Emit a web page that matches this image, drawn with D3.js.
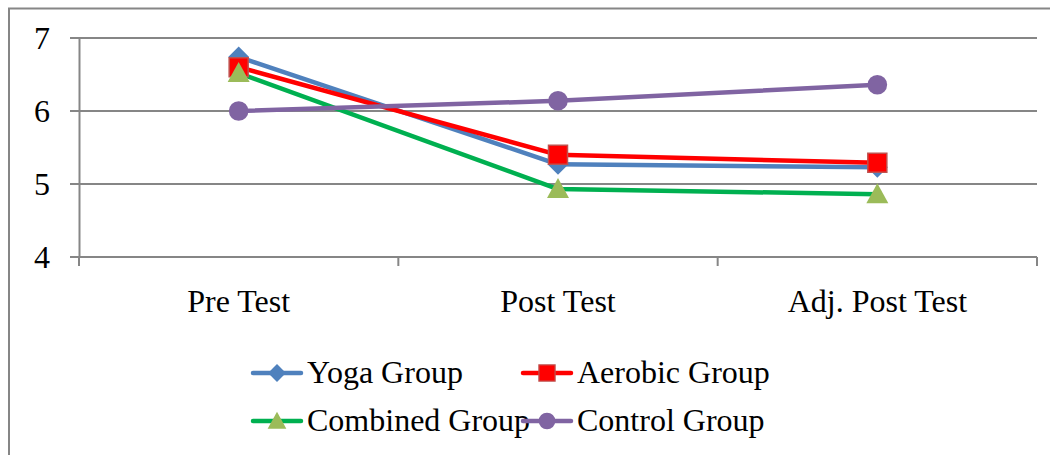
<!DOCTYPE html>
<html>
<head>
<meta charset="utf-8">
<script src="https://cdn.jsdelivr.net/npm/d3@7"></script>
<style>
  body { margin: 0; background: #fff; }
</style>
</head>
<body>
<svg id="chart" width="1050" height="455"></svg>
<script>
// data
const categories = ['Pre Test', 'Post Test', 'Adj. Post Test']
const yogaGroup = [6.74, 5.27, 5.23]
const aerobicGroup = [6.6, 5.4, 5.29]
const combinedGroup = [6.52, 4.93, 4.86]
const controlGroup = [6.0, 6.14, 6.36]
const yTicks = [4, 5, 6, 7]

const series = [
    {name: 'Yoga Group', values: yogaGroup, line: '#4F81BD', fill: '#4F81BD', stroke: 'none', shape: 'diamond'},
    {name: 'Aerobic Group', values: aerobicGroup, line: '#FF0000', fill: '#FF0000', stroke: '#C0504D', shape: 'square'},
    {name: 'Combined Group', values: combinedGroup, line: '#00B050', fill: '#9BBB59', stroke: 'none', shape: 'triangle'},
    {name: 'Control Group', values: controlGroup, line: '#8064A2', fill: '#8064A2', stroke: 'none', shape: 'circle'}
]

const FONT = '"Liberation Serif", "Times New Roman", serif'
const svg = d3.select('#chart').style('font-family', FONT)
const plotLeft = 79, plotRight = 1037, plotTop = 38, plotBottom = 257
const grey = '#868686'

// outer frame (cut off at right and bottom)
svg.append('path')
    .attr('d', `M9,460 V8.5 H1060`)
    .attr('fill', 'none').attr('stroke', grey).attr('stroke-width', 2)

const x = d3.scaleBand().domain(categories).range([plotLeft, plotRight])
const y = d3.scaleLinear().domain([4, 7]).range([plotBottom, plotTop])

// gridlines
svg.append('g').selectAll('line').data(yTicks).enter().append('line')
    .attr('x1', plotLeft - 9).attr('x2', plotRight)
    .attr('y1', d => y(d)).attr('y2', d => y(d))
    .attr('stroke', grey).attr('stroke-width', 2)

// y axis
const yAxis = svg.append('g')
    .attr('transform', `translate(${plotLeft},0)`)
    .call(d3.axisLeft(y).tickValues(yTicks).tickFormat(d3.format('d')).tickSize(0).tickPadding(37))
yAxis.select('.domain').attr('stroke', grey).attr('stroke-width', 2)
yAxis.selectAll('text').attr('font-size', 32).attr('fill', '#000')
    .style('font-family', FONT)
    .attr('text-anchor', 'middle').attr('dy', '0.33em')

// x axis
const xAxis = svg.append('g')
    .attr('transform', `translate(0,${plotBottom})`)
    .call(d3.axisBottom(x).tickSize(0).tickPadding(32))
xAxis.select('.domain').remove()
xAxis.selectAll('text').attr('font-size', 32).attr('fill', '#000').style('font-family', FONT)
svg.append('g').selectAll('line')
    .data(categories.map(c => x(c)).concat([plotRight]))
    .enter().append('line')
    .attr('x1', d => d).attr('x2', d => d)
    .attr('y1', plotBottom).attr('y2', plotBottom + 9)
    .attr('stroke', grey).attr('stroke-width', 2)

const cx = c => x(c) + x.bandwidth() / 2
const line = d3.line().x((d, i) => cx(categories[i])).y(d => y(d))

const shapes = {
    diamond: 'M0,-10.5L10.5,0L0,10.5L-10.5,0Z',
    square: 'M-9.5,-9.5H9.5V9.5H-9.5Z',
    triangle: 'M0,-11L11,9L-11,9Z',
    circle: 'M9.8,0A9.8,9.8 0 1,1 -9.8,0A9.8,9.8 0 1,1 9.8,0Z'
}

function marker(g, s) {
    return g.append('path')
        .attr('d', shapes[s.shape])
        .attr('fill', s.fill)
        .attr('stroke', s.stroke)
        .attr('stroke-width', s.stroke === 'none' ? 0 : 1.5)
}

series.forEach(s => {
    svg.append('path').datum(s.values)
        .attr('d', line)
        .attr('fill', 'none')
        .attr('stroke', s.line)
        .attr('stroke-width', 4.5)
        .attr('stroke-linejoin', 'round')
})
series.forEach(s => {
    s.values.forEach((v, i) => {
        marker(svg, s).attr('transform', `translate(${cx(categories[i])},${y(v)})`)
    })
})

// legend
const legendPos = [[253, 373], [523, 373], [253, 421], [523, 421]]
series.forEach((s, i) => {
    const [lx, ly] = legendPos[i]
    const g = svg.append('g').attr('transform', `translate(${lx},${ly})`)
    g.append('line').attr('x1', 0).attr('x2', 48).attr('y1', 0).attr('y2', 0)
        .attr('stroke', s.line).attr('stroke-width', 4.5).attr('stroke-linecap', 'round')
    marker(g, s).attr('transform', 'translate(24,0) scale(0.85)')
    g.append('text').attr('x', 54).attr('y', 10)
        .attr('font-size', 32).attr('fill', '#000')
        .style('font-family', FONT)
        .text(s.name)
})
</script>
</body>
</html>
